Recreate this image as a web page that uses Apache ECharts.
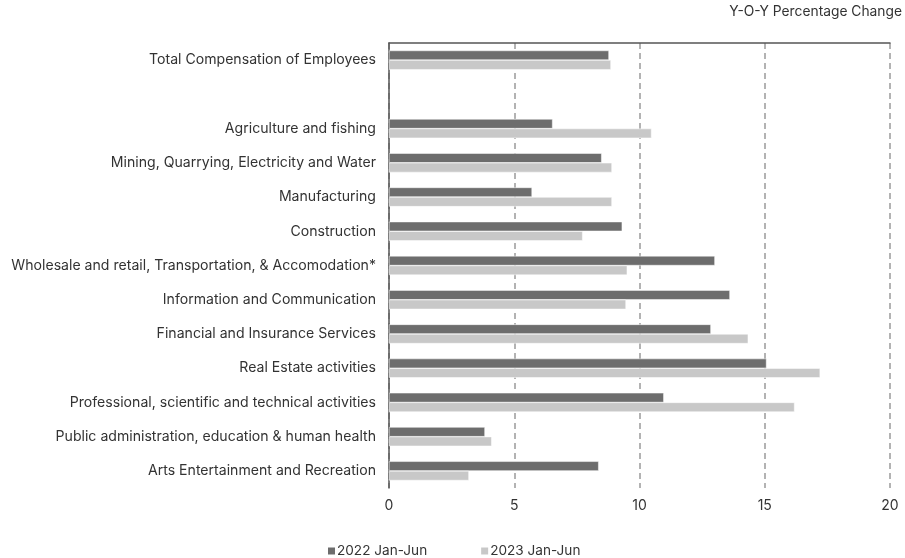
<!DOCTYPE html>
<html>
<head>
<meta charset="utf-8">
<script src="https://cdn.jsdelivr.net/npm/echarts@6/dist/echarts.min.js"></script>
<style>html,body{margin:0;padding:0;background:#fff;}#chart{width:905px;height:558px;}</style>
</head>
<body>
<div id="chart"></div>
<script>
const categories = [
  'Total Compensation of Employees',
  '',
  'Agriculture and fishing',
  'Mining, Quarrying, Electricity and Water',
  'Manufacturing',
  'Construction',
  'Wholesale and retail, Transportation, & Accomodation*',
  'Information and Communication',
  'Financial and Insurance Services',
  'Real Estate activities',
  'Professional, scientific and technical activities',
  'Public administration, education & human health',
  'Arts Entertainment and Recreation'
];
const values2022 = [8.78, null, 6.53, 8.49, 5.71, 9.31, 13.01, 13.61, 12.85, 15.07, 10.97, 3.83, 8.37];
const values2023 = [8.86, null, 10.48, 8.90, 8.90, 7.73, 9.51, 9.46, 14.34, 17.21, 16.19, 4.10, 3.19];
const seriesNames = ['2022 Jan-Jun', '2023 Jan-Jun'];
const xTicks = { min: 0, max: 20, interval: 5 };
const titleText = 'Y-O-Y Percentage Change';

const font = 'Inter';
const chart = echarts.init(document.getElementById('chart'));
chart.setOption({
  animation: false,
  backgroundColor: '#fff',
  textStyle: { fontFamily: font },
  title: {
    text: titleText, right: 3, top: 5, padding: 0,
    textStyle: { fontFamily: font, fontSize: 13.8, fontWeight: 'normal', color: '#333' }
  },
  legend: {
    data: seriesNames, left: 321, top: 539, icon: 'rect',
    itemWidth: 9, itemHeight: 9, itemGap: 52,
    textStyle: { fontFamily: font, fontSize: 13.6, color: '#333', padding: [0,0,0,-4] }
  },
  grid: { left: 389, right: 15, top: 43, bottom: 70 },
  xAxis: [{
    type: 'value', min: xTicks.min, max: xTicks.max, interval: xTicks.interval,
    position: 'bottom',
    axisLine: { show: false }, axisTick: { show: false },
    axisLabel: { fontFamily: font, fontSize: 14, color: '#333', margin: 11 },
    splitLine: { show: true, lineStyle: { color: '#9a9a9a', width: 1.5, type: [6, 4] } }
  }, {
    type: 'value', min: xTicks.min, max: xTicks.max, position: 'top',
    axisLine: { show: true, lineStyle: { color: '#555', width: 1.5 } },
    axisTick: { show: false }, axisLabel: { show: false }, splitLine: { show: false }
  }],
  yAxis: {
    type: 'category', data: categories, inverse: true,
    axisLine: { show: true, lineStyle: { color: '#555', width: 1.5 } },
    axisTick: { show: false },
    axisLabel: { fontFamily: font, fontSize: 14.1, color: '#333', margin: 13 }
  },
  series: [{
    name: seriesNames[0], type: 'bar', data: values2022, xAxisIndex: 0,
    barGap: '0%', barCategoryGap: '44%',
    itemStyle: { color: '#6d6d6d', borderColor: '#fff', borderWidth: 0.5 }
  }, {
    name: seriesNames[1], type: 'bar', data: values2023, xAxisIndex: 0,
    itemStyle: { color: '#c8c8c8', borderColor: '#fff', borderWidth: 0.5 }
  }]
});
</script>
</body>
</html>
